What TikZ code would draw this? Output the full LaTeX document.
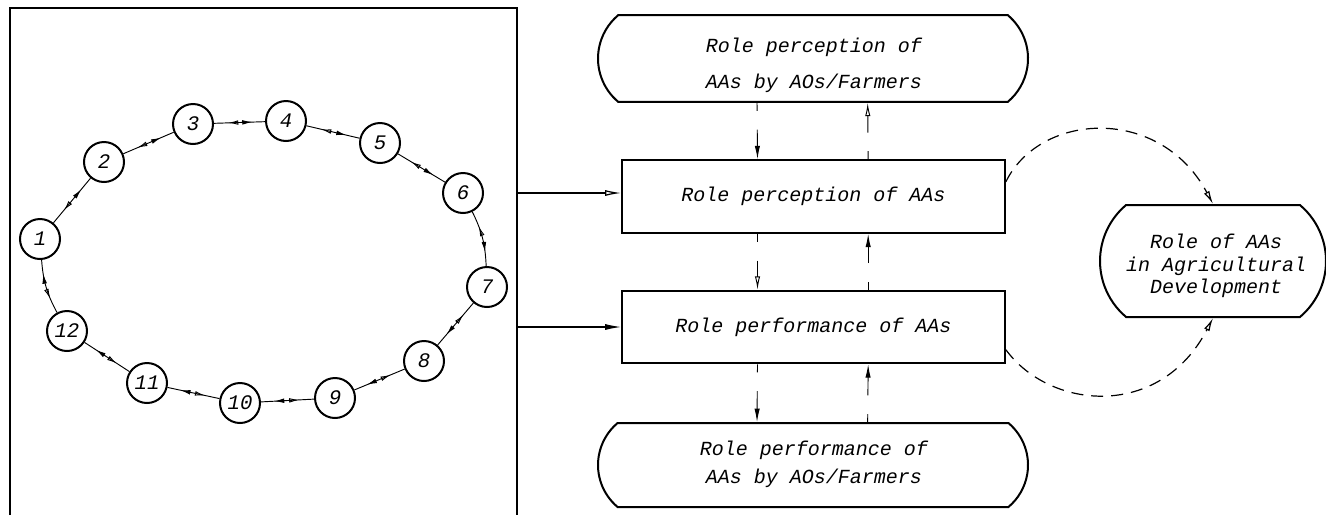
\documentclass[tikz,border=0pt]{standalone}
\usepackage{fontspec}
\setmonofont{Liberation Mono}
\usetikzlibrary{arrows.meta,shapes.misc,decorations.markings}
\begin{document}
\begin{tikzpicture}[x=0.75pt,y=-0.75pt,
  lbl/.style={font=\fontsize{15}{18}\selectfont\ttfamily\itshape},
  num/.style={circle,draw,line width=1.5pt,minimum size=30pt,inner sep=0pt,
    font=\fontsize{15.5}{18}\selectfont\ttfamily\itshape},
  box/.style={draw,line width=1.5pt,rectangle,minimum width=287pt,minimum height=54.5pt,inner sep=0pt,lbl},
  capsule/.style={draw,line width=1.5pt,rounded rectangle,rounded rectangle arc length=100,inner sep=0pt},
  ctext/.style={align=center,inner sep=0pt},
  link/.style={line width=0.7pt,postaction=decorate,decoration={markings,
    mark=at position 0.28 with {\arrowreversed{Latex[open,length=7.5pt,width=3.5pt]}},
    mark=at position 0.75 with {\arrow{Latex[length=7.5pt,width=3.5pt]}}}},
  vlink/.style={line width=0.7pt,dash pattern=on 6pt off 14pt on 40pt},
  tipf/.style={-{Latex[length=10pt,width=4pt]}},
  tipo/.style={-{Latex[open,length=10pt,width=4pt]}},
  arc/.style={line width=0.9pt,dash pattern=on 9pt off 6pt},
]
\useasboundingbox (0,0) rectangle (1326,515);

% left frame
\draw[line width=1.1pt] (10,515) -- (10,8) -- (517,8) -- (517,515);
\coordinate (fr1) at (517,193);
\coordinate (fr2) at (517,327);

% ring
\node[num] (n1) at (40,239) {1};
\node[num] (n2) at (104,162) {2};
\node[num] (n3) at (193,124) {3};
\node[num] (n4) at (286,121) {4};
\node[num] (n5) at (380,143) {5};
\node[num] (n6) at (463,193) {6};
\node[num] (n7) at (487,287) {7};
\node[num] (n8) at (424,361) {8};
\node[num] (n9) at (335,398) {9};
\node[num] (n10) at (240,403) {10};
\node[num] (n11) at (147,383) {11};
\node[num] (n12) at (67,331) {12};

\draw[link] (n1) -- (n2);
\draw[link] (n2) -- (n3);
\draw[link] (n3) -- (n4);
\draw[link] (n4) -- (n5);
\draw[link] (n5) -- (n6);
\draw[link] (n6) to[bend left=12] (n7);
\draw[link] (n7) -- (n8);
\draw[link] (n8) -- (n9);
\draw[link] (n9) -- (n10);
\draw[link] (n10) -- (n11);
\draw[link] (n11) -- (n12);
\draw[link] (n12) to[bend left=12] (n1);

% right column boxes
\node[capsule,minimum width=322.5pt,minimum height=65pt] (top) at (813,58.5) {};
\node[ctext,font=\fontsize{15}{27}\selectfont\ttfamily\itshape] (toptext) at (814,65)
  {Role perception of\\AAs by AOs/Farmers};
\node[box] (r1) at (813.5,196.5) {Role perception of AAs};
\node[box] (r2) at (813.5,327) {Role performance of AAs};
\node[capsule,minimum width=322.5pt,minimum height=63pt] (bot) at (813,465) {};
\node[ctext,font=\fontsize{15}{21}\selectfont\ttfamily\itshape] (bottext) at (814,464)
  {Role performance of\\AAs by AOs/Farmers};
\node[capsule,minimum width=169.5pt,minimum height=84pt] (ov) at (1213,261) {};
\node[ctext,font=\fontsize{15}{17}\selectfont\ttfamily\itshape] (ovtext) at (1216,266)
  {Role of AAs\\in Agricultural\\Development};

% horizontal arrows
\draw[line width=0.9pt,-{Latex[open,length=12pt,width=4.5pt]}] (fr1) -- (r1.west |- fr1);
\draw[line width=0.9pt,-{Latex[length=12pt,width=4.5pt]}] (fr2) -- (r2.west |- fr2);

% vertical links, down (left column)
\draw[vlink,tipf] ([xshift=-42pt]top.south) -- ([xshift=-42pt]r1.north);
\draw[vlink,tipo] ([xshift=-42pt]r1.south) -- ([xshift=-42pt]r2.north);
\draw[vlink,tipf] ([xshift=-42pt]r2.south) -- ([xshift=-42pt]bot.north);
% vertical links, up (right column)
\draw[vlink,tipo] ([xshift=41pt]r1.north) -- ([xshift=41pt]top.south);
\draw[vlink,tipf] ([xshift=41pt]r2.north) -- ([xshift=41pt]r1.south);
\draw[vlink,tipf] ([xshift=41pt]bot.north) -- ([xshift=41pt]r2.south);

% dashed arcs to the development oval
\draw[arc,-{Latex[open,length=10pt,width=4.5pt]}] ([yshift=11pt]r1.east) .. controls (1040,112) and (1160,105) .. (ov.north);
\draw[arc,-{Latex[open,length=10pt,width=4.5pt]}] ([yshift=-17pt]r2.east) .. controls (1050,410) and (1160,420) .. (ov.south);
\end{tikzpicture}
\end{document}
